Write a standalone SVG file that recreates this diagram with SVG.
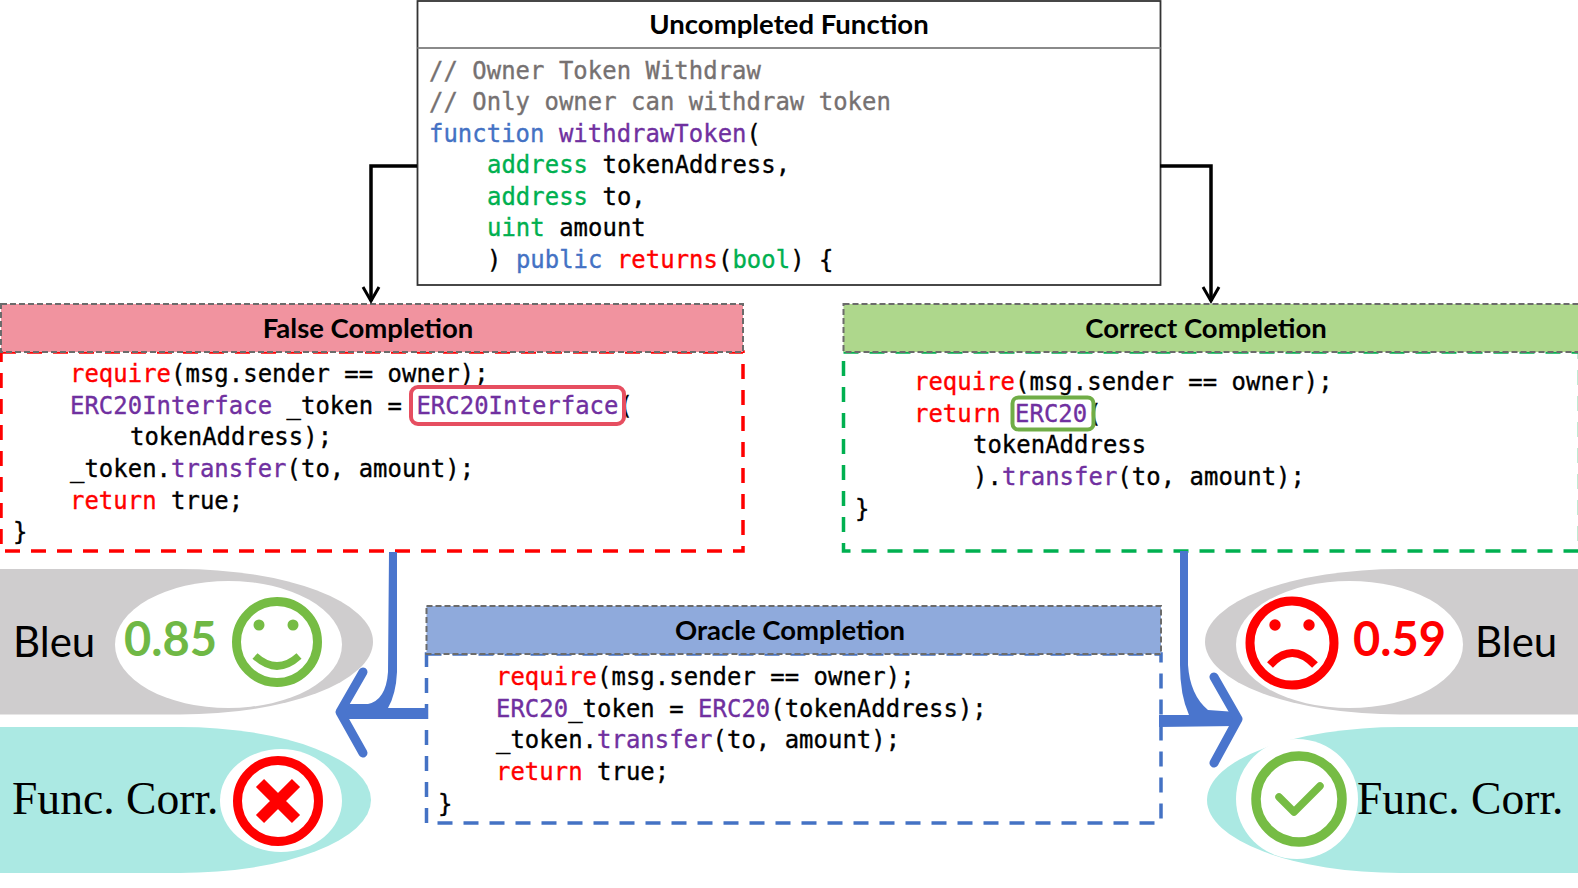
<svg xmlns="http://www.w3.org/2000/svg" width="1578" height="888" viewBox="0 0 1578 888">
<style>
text{white-space:pre}
.c{font-family:"DejaVu Sans Mono","Liberation Mono",monospace;font-size:23.9px;letter-spacing:.05px;fill:#000;stroke:#000;stroke-width:.35}
.t{font-family:Lato,"Open Sans",sans-serif;font-weight:700;font-size:27.5px;text-anchor:middle;fill:#000}
.b{font-family:Lato,"Open Sans",sans-serif;font-size:42px;fill:#000}
.f{font-family:"Liberation Serif",serif;font-size:45.6px;fill:#000}
.s{font-family:Lato,"Open Sans",sans-serif;font-weight:700;font-size:47px}
.hd{stroke:#6b6b6b;stroke-width:2;stroke-dasharray:6 3}
.bd{fill:none;stroke-width:3.5;stroke-dasharray:15 11}
.pu{fill:#7030a0;stroke:#7030a0}.re{fill:#f00;stroke:#f00}.gr{fill:#00b050;stroke:#00b050}.bl{fill:#4472c4;stroke:#4472c4}.cm{fill:#767171;stroke:#767171}
.gy{fill:#cfcdce}.te{fill:#abe9e3}.wh{fill:#fff}
.arr{fill:none;stroke:#000;stroke-width:3.5}
.chev{fill:none;stroke:#4a75cd;stroke-width:9;stroke-linecap:round;stroke-linejoin:round}
</style>
<defs>
<marker id="ah" markerUnits="userSpaceOnUse" markerWidth="24" markerHeight="24" refX="18" refY="10" orient="auto" viewBox="0 0 24 20" overflow="visible">
<path d="M4,2 L18,10 L4,18" fill="none" stroke="#000" stroke-width="3"/>
</marker>
</defs>

<g id="bleu-left">
<path class="gy" d="M0,569H180A193,72.750 0 0 1 180,714.500H0Z"/>
<ellipse class="wh" cx="228.500" cy="644.500" rx="113.500" ry="63.500"/>
<text class="b" x="13" y="657">Bleu</text>
<text class="s" x="124" y="656" fill="#70b845" style="fill:#70b845">0.85</text>
<circle cx="277" cy="642" r="40.500" fill="none" stroke="#76bc44" stroke-width="9"/>
<circle cx="259" cy="625" r="5.500" fill="#76bc44"/><circle cx="293" cy="625" r="5.500" fill="#76bc44"/>
<path d="M255,656Q277,676 299,656" fill="none" stroke="#76bc44" stroke-width="7.500"/>
</g>
<g id="func-left">
<path class="te" d="M0,727H180A191,73 0 0 1 180,873H0Z"/>
<ellipse class="wh" cx="281" cy="800.500" rx="61" ry="51.500"/>
<text class="f" x="12" y="814">Func. Corr.</text>
<circle cx="278" cy="801" r="40.500" fill="none" stroke="#f00" stroke-width="9"/>
<path d="M260,783L296,819M296,783L260,819" fill="none" stroke="#f00" stroke-width="11.500"/>
</g>
<g id="bleu-right">
<path class="gy" d="M1578,569H1400A195,72.750 0 0 0 1400,714.500H1578Z"/>
<ellipse class="wh" cx="1349.500" cy="644.500" rx="113.500" ry="63.500"/>
<text class="b" x="1475" y="657">Bleu</text>
<text class="s" x="1353" y="656" style="fill:#f00">0.59</text>
<circle cx="1292" cy="643" r="42" fill="none" stroke="#f00" stroke-width="9"/>
<circle cx="1275" cy="625" r="5.700" fill="#f00"/><circle cx="1309" cy="625" r="5.700" fill="#f00"/>
<path d="M1270,665Q1292,641 1315,665" fill="none" stroke="#f00" stroke-width="8"/>
</g>
<g id="func-right">
<path class="te" d="M1578,727H1400A193,73 0 0 0 1400,873H1578Z"/>
<ellipse class="wh" cx="1297" cy="799" rx="61" ry="60"/>
<text class="f" x="1357" y="814">Func. Corr.</text>
<circle cx="1299" cy="799" r="43" fill="none" stroke="#76bc44" stroke-width="9.500"/>
<path d="M1279,797L1294,812L1320,786" fill="none" stroke="#76bc44" stroke-width="7.500" stroke-linecap="round" stroke-linejoin="round"/>
</g>

<g id="uncompleted-function">
<rect x="417.500" y="1" width="743" height="284" fill="#fff" stroke="#333" stroke-width="1.800"/>
<line x1="417.500" y1="48" x2="1160.500" y2="48" stroke="#8a8a8a" stroke-width="1.800"/>
<text class="t" x="789" y="33.500">Uncompleted Function</text>
<text class="c cm" x="429" y="78.500">// Owner Token Withdraw</text>
<text class="c cm" x="429" y="110">// Only owner can withdraw token</text>
<text class="c" x="429" y="141.700"><tspan class="bl">function</tspan> <tspan class="pu">withdrawToken</tspan>(</text>
<text class="c" x="487" y="173.300"><tspan class="gr">address</tspan> tokenAddress,</text>
<text class="c" x="487" y="205"><tspan class="gr">address</tspan> to,</text>
<text class="c" x="487" y="236"><tspan class="gr">uint</tspan> amount</text>
<text class="c" x="487" y="268">) <tspan class="bl">public</tspan> <tspan class="re">returns</tspan>(<tspan class="gr">bool</tspan>) {</text>
</g>

<g id="false-completion">
<rect x="1" y="352" width="742" height="199" fill="#fff"/>
<rect class="bd" x="1" y="352" width="742" height="199" stroke="#f00"/>
<rect class="hd" x="1" y="304" width="742" height="48" fill="#f1939f"/>
<text class="t" x="368" y="338">False Completion</text>
<text class="c" x="70" y="381.500"><tspan class="re">require</tspan>(msg.sender == owner);</text>
<text class="c" x="70" y="413.500"><tspan class="pu">ERC20Interface</tspan> _token = <tspan class="pu">ERC20Interface</tspan>(</text>
<text class="c" x="130" y="445">tokenAddress);</text>
<text class="c" x="70" y="477"><tspan>_token.</tspan><tspan class="pu">transfer</tspan>(to, amount);</text>
<text class="c" x="70" y="508.500"><tspan class="re">return</tspan> true;</text>
<text class="c" x="13" y="540">}</text>
<rect x="411" y="387" width="213" height="37" rx="7" fill="none" stroke="#e64e60" stroke-width="4"/>
</g>

<g id="correct-completion">
<rect x="843.500" y="352" width="736" height="199" fill="#fff"/>
<rect class="bd" x="843.500" y="352" width="736" height="199" stroke="#00b050"/>
<rect class="hd" x="843.500" y="304" width="736" height="48" fill="#aed78c"/>
<text class="t" x="1206" y="338">Correct Completion</text>
<text class="c" x="914" y="389.500"><tspan class="re">require</tspan>(msg.sender == owner);</text>
<text class="c" x="914" y="421.500"><tspan class="re">return</tspan> <tspan class="pu">ERC20</tspan>(</text>
<text class="c" x="973" y="453">tokenAddress</text>
<text class="c" x="973" y="485">).<tspan class="pu">transfer</tspan>(to, amount);</text>
<text class="c" x="855" y="516.500">}</text>
<rect x="1012.500" y="397.500" width="81" height="32" rx="6" fill="none" stroke="#70ad47" stroke-width="4"/>
</g>

<g id="oracle-completion">
<rect x="426.500" y="654" width="734.500" height="169" fill="#fff"/>
<rect class="bd" x="426.500" y="654" width="734.500" height="169" stroke="#4472c4"/>
<rect class="hd" x="426.500" y="606" width="734.500" height="48" fill="#8faadc"/>
<text class="t" x="790" y="640">Oracle Completion</text>
<text class="c" x="496" y="684.500"><tspan class="re">require</tspan>(msg.sender == owner);</text>
<text class="c" x="496" y="716.500"><tspan class="pu">ERC20</tspan>_token = <tspan class="pu">ERC20</tspan>(tokenAddress);</text>
<text class="c" x="496" y="748">_token.<tspan class="pu">transfer</tspan>(to, amount);</text>
<text class="c" x="496" y="780"><tspan class="re">return</tspan> true;</text>
<text class="c" x="438" y="811.500">}</text>
</g>

<g id="connectors">
<path class="arr" d="M417,166H371V301" marker-end="url(#ah)"/>
<path class="arr" d="M1160,166H1211V301" marker-end="url(#ah)"/>
<path fill="#4a75cd" d="M389,552H397V672Q396,694 388,708L428,708V719H340V704H368Q386,700 388,672Z"/>
<path class="chev" d="M363,672L340,712L363,753"/>
<path fill="#4a75cd" d="M1180,551H1188V665Q1190,695 1208,710L1236,712V726L1159,727V715H1189Q1180,695 1180,665Z"/>
<path class="chev" d="M1214,677L1238,719L1214,763"/>
</g>
</svg>
